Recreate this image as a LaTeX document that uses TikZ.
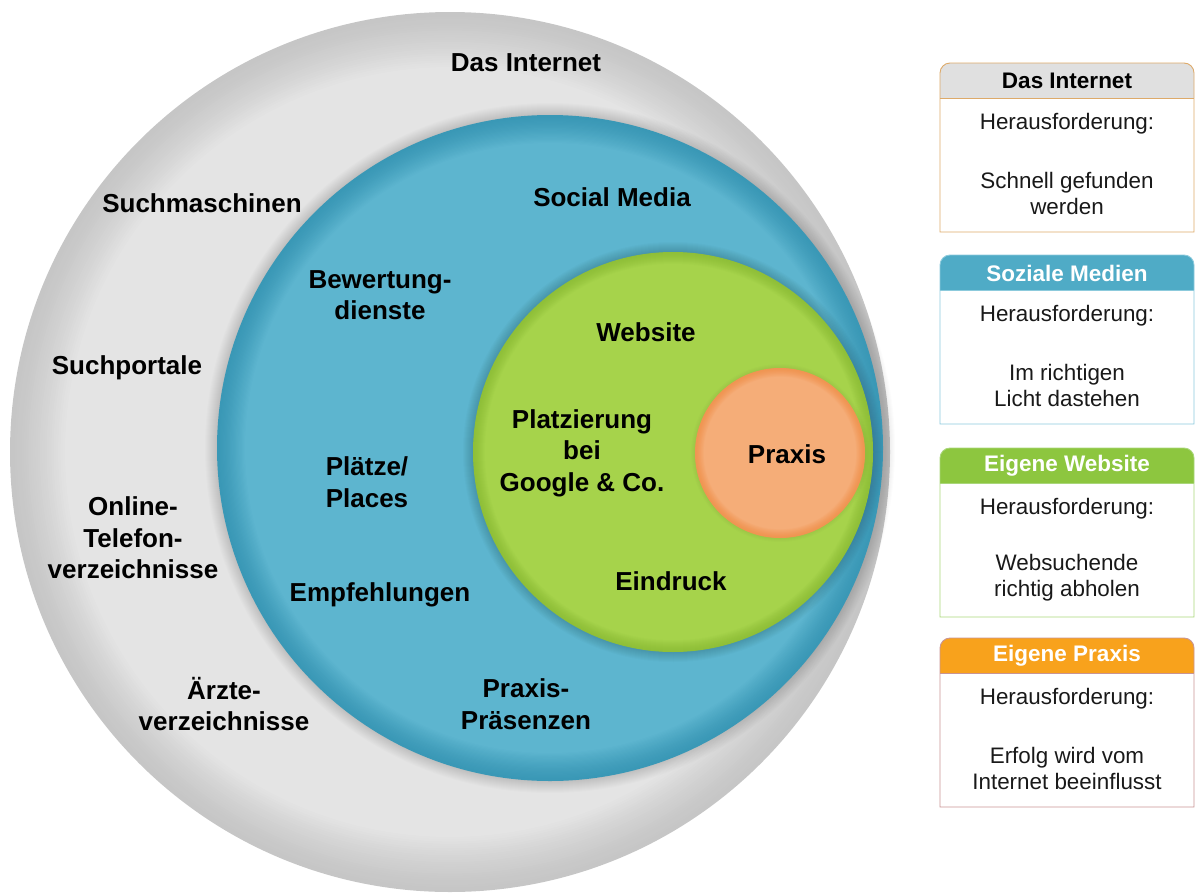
\documentclass[tikz,border=0pt]{standalone}
\usepackage{fontspec}
\setmainfont{Liberation Sans}

% ring colours (inner tone / rim tone)
\definecolor{grayin}{HTML}{E4E4E4}
\definecolor{grayout}{HTML}{C6C6C6}
\definecolor{bluein}{HTML}{5DB5CF}
\definecolor{blueout}{HTML}{3A98B6}
\definecolor{greenin}{HTML}{A6D34B}
\definecolor{greenout}{HTML}{8FBF38}
\definecolor{orangein}{HTML}{F5AD78}
\definecolor{orangeout}{HTML}{F09552}

% panel colours
\definecolor{hdrgray}{HTML}{E0E0E0}
\definecolor{brdtan}{HTML}{DDAA6A}
\definecolor{hdrblue}{HTML}{4FABC6}
\definecolor{brdblue}{HTML}{8CCADC}
\definecolor{hdrgreen}{HTML}{8DC63F}
\definecolor{brdgreen}{HTML}{A9D67A}
\definecolor{hdrorange}{HTML}{F8A21C}
\definecolor{brdred}{HTML}{C89494}

% disc with a darker rim, built from thin concentric bands:
% #1 centre, #2 radius, #3 rim width, #4 inner colour, #5 rim colour
\newcommand{\rimdisc}[5]{%
  \foreach \k in {0,...,24}{%
    \pgfmathsetmacro{\rr}{#2-#3*\k/24}%
    \pgfmathsetmacro{\pp}{100*(\k/24)^1.4}%
    \fill[#4!\pp!#5] #1 circle (\rr);
  }%
}

% soft shadow just outside a disc: #1 centre, #2 radius, #3 width, #4 opacity
\newcommand{\softshadow}[4]{%
  \foreach \k in {1,...,#3}
    \fill[black, opacity=#4] #1 circle ({#2+\k});
}

% one challenge panel: #1 top edge, #2 name, #3 header fill, #4 border,
% #5 title colour, #6 title, #7 challenge text
\newcommand{\infopanel}[7]{%
  \fill[#3] (940,#1+35) -- (940,#1+10) arc(180:270:10) -- (1184,#1)
        arc(270:360:10) -- (1194,#1+35) -- cycle;
  \draw[#4, line width=0.9] (940,#1+169) -- (940,#1+10) arc(180:270:10)
        -- (1184,#1) arc(270:360:10) -- (1194,#1+169) -- cycle;
  \draw[#4, line width=0.9] (940,#1+35) -- (1194,#1+35);
  \node[paneltitle, text=#5] (#2-title) at (1067,#1+18) {#6};
  \node[paneltext] (#2-task) at (1067,#1+61) {Herausforderung:};
  \node[paneltext] (#2-goal) at (1067,#1+130) {#7};
}

\begin{document}
\begin{tikzpicture}[x=1pt, y=-1pt,
  lab/.style={font=\fontsize{26}{31.5}\selectfont\bfseries, align=center,
              inner sep=0pt, text=black},
  paneltitle/.style={font=\fontsize{22.5}{26}\selectfont\bfseries,
              align=center, inner sep=0pt},
  paneltext/.style={font=\fontsize{22.4}{26}\selectfont, align=center,
              inner sep=0pt, text=black!90}]

\useasboundingbox (0,0) rectangle (1196,894);

% outer ring: the internet
\rimdisc{(450,452)}{440}{55}{grayin}{grayout}

% blue ring: social media
\softshadow{(550,448)}{333}{12}{0.013}
\rimdisc{(550,448)}{333}{28}{bluein}{blueout}

% green ring: website
\softshadow{(673,452)}{200}{10}{0.016}
\rimdisc{(673,452)}{200}{12}{greenin}{greenout}

% orange core: the practice
\softshadow{(780,453)}{85}{4}{0.012}
\rimdisc{(780,453)}{85}{9}{orangein}{orangeout}

% labels in the circles
\node[lab] (internet)   at (526,63)  {Das Internet};
\node[lab] (suchmasch)  at (202,203) {Suchmaschinen};
\node[lab] (suchport)   at (127,368) {Suchportale};
\node[lab] (telefon)    at (133,538) {Online-\\Telefon-\\verzeichnisse};
\node[lab] (aerzte)     at (224,704) {Ärzte-\\verzeichnisse};
\node[lab] (social)     at (612,197) {Social Media};
\node[lab] (bewertung)  at (380,295) {Bewertung-\\dienste};
\node[lab] (plaetze)    at (367,482) {Plätze/\\Places};
\node[lab] (empfehlung) at (380,595) {Empfehlungen};
\node[lab] (praesenz)   at (526,704) {Praxis-\\Präsenzen};
\node[lab] (website)    at (646,332) {Website};
\node[lab] (google)     at (582,453) {Platzierung\\bei\\Google \& Co.};
\node[lab] (eindruck)   at (671,581) {Eindruck};
\node[lab] (praxis)     at (787,454) {Praxis};

% challenge panels
\infopanel{63}{pinternet}{hdrgray}{brdtan}{black}{Das Internet}{Schnell gefunden\\werden}
\infopanel{255}{psocial}{hdrblue}{brdblue}{white}{Soziale Medien}{Im richtigen\\Licht dastehen}
\infopanel{448}{pweb}{hdrgreen}{brdgreen}{white}{Eigene Website}{Websuchende\\richtig abholen}
\infopanel{638}{ppraxis}{hdrorange}{brdred}{white}{Eigene Praxis}{Erfolg wird vom\\Internet beeinflusst}

\end{tikzpicture}
\end{document}
